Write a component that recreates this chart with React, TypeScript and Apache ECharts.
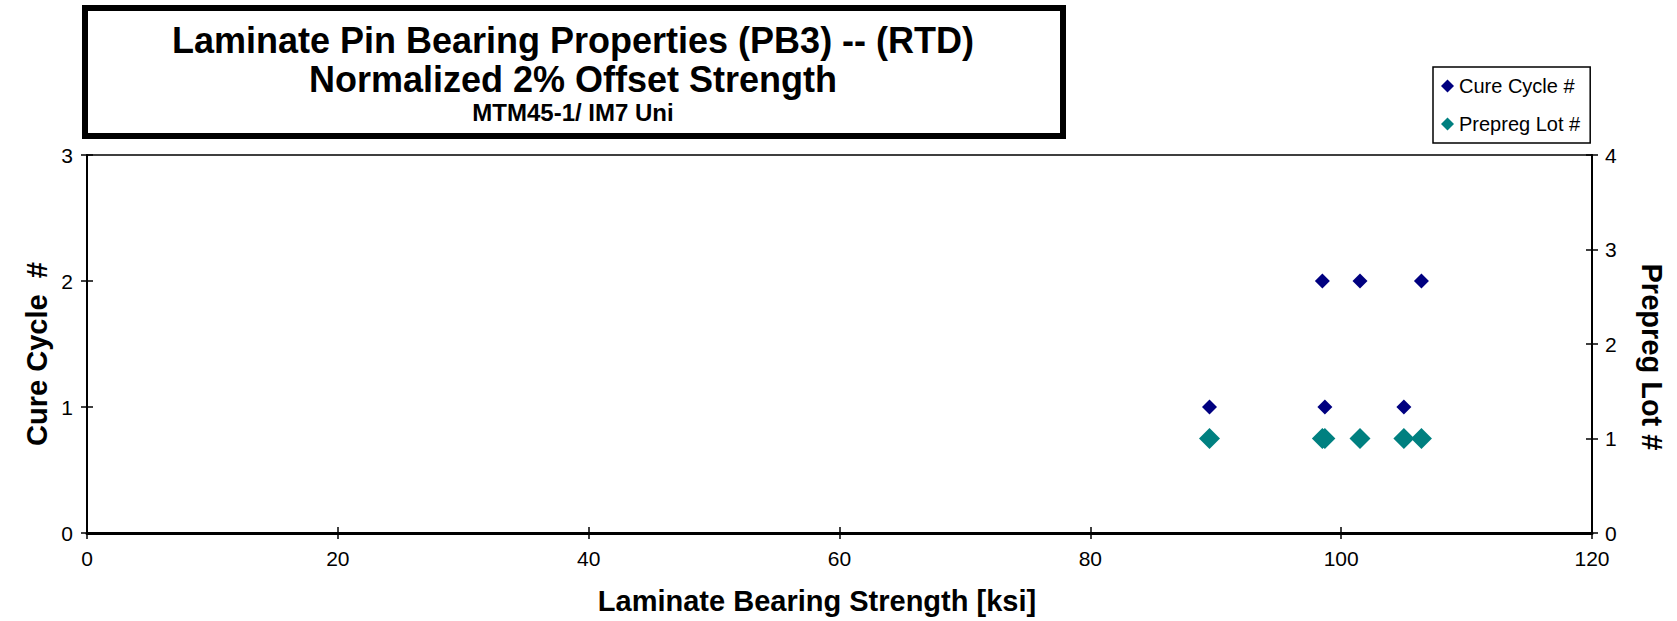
import React, { useEffect, useRef } from "react";
import * as echarts from "echarts";

const titleLines = [
  "Laminate Pin Bearing Properties (PB3) -- (RTD)",
  "Normalized 2% Offset Strength",
  "MTM45-1/ IM7 Uni",
];
const xAxisName = "Laminate Bearing Strength [ksi]";
const leftAxisName = "Cure Cycle  #";
const rightAxisName = "Prepreg Lot #";

const cureName = "Cure Cycle #";
const cureX = [98.5, 101.5, 106.4, 89.5, 98.7, 105.0];
const cureY = [2, 2, 2, 1, 1, 1];

const lotName = "Prepreg Lot #";
const lotX = [89.5, 98.5, 98.7, 101.5, 105.0, 106.4];
const lotY = [1, 1, 1, 1, 1, 1];

const FONT = "'Liberation Sans', Arial, sans-serif";

export default function App() {
  const ref = useRef<HTMLDivElement>(null);
  useEffect(() => {
    if (!ref.current) return;
    const chart = echarts.init(ref.current, undefined, { renderer: "svg" });
    const axisLabel = { fontSize: 21, color: "#000", fontFamily: FONT };
    const gridPos = { left: 87, right: 85, top: 155, bottom: 88 };
    const tickStyle = { color: "#000", width: 1.5 };
    const option: any = {
      animation: false,
      backgroundColor: "#fff",
      grid: [
        {
          ...gridPos,
          show: true,
          borderColor: "#000",
          borderWidth: 1.5,
          backgroundColor: "transparent",
        },
        { ...gridPos, show: false },
      ],
      legend: {
        orient: "vertical",
        left: 1433,
        top: 67,
        itemWidth: 13,
        itemHeight: 13,
        itemGap: 18,
        padding: [9, 10, 9, 8],
        borderColor: "#000",
        borderWidth: 1.5,
        backgroundColor: "#fff",
        textStyle: { fontSize: 20, color: "#000", fontFamily: FONT, lineHeight: 20 },
        data: [
          { name: cureName, icon: "diamond" },
          { name: lotName, icon: "diamond" },
        ],
      },
      xAxis: [
        {
          type: "value",
          gridIndex: 0,
          position: "bottom",
          min: 0,
          max: 120,
          interval: 20,
          axisLine: { show: true, lineStyle: { color: "#000", width: 3 } },
          axisTick: { show: true, inside: false, length: 6, lineStyle: tickStyle },
          axisLabel: { ...axisLabel, margin: 15 },
          splitLine: { show: false },
        },
        {
          type: "value",
          gridIndex: 1,
          position: "bottom",
          min: 0,
          max: 120,
          interval: 20,
          axisLine: { show: false },
          axisTick: { show: true, inside: true, length: 6, lineStyle: tickStyle },
          axisLabel: { show: false },
          splitLine: { show: false },
        },
      ],
      yAxis: [
        {
          type: "value",
          gridIndex: 0,
          position: "left",
          min: 0,
          max: 3,
          interval: 1,
          axisLine: { show: true, lineStyle: { color: "#000", width: 2 } },
          axisTick: { show: true, inside: false, length: 6, lineStyle: tickStyle },
          axisLabel: { ...axisLabel, margin: 14 },
          splitLine: { show: false },
        },
        {
          type: "value",
          gridIndex: 0,
          position: "right",
          min: 0,
          max: 4,
          interval: 1,
          axisLine: { show: true, lineStyle: { color: "#000", width: 2 } },
          axisTick: { show: true, inside: false, length: 6, lineStyle: tickStyle },
          axisLabel: { ...axisLabel, margin: 13 },
          splitLine: { show: false },
        },
        {
          type: "value",
          gridIndex: 1,
          position: "left",
          min: 0,
          max: 3,
          interval: 1,
          axisLine: { show: false },
          axisTick: { show: true, inside: true, length: 6, lineStyle: tickStyle },
          axisLabel: { show: false },
          splitLine: { show: false },
        },
        {
          type: "value",
          gridIndex: 1,
          position: "right",
          min: 0,
          max: 4,
          interval: 1,
          axisLine: { show: false },
          axisTick: { show: true, inside: true, length: 6, lineStyle: tickStyle },
          axisLabel: { show: false },
          splitLine: { show: false },
        },
      ],
      series: [
        {
          name: cureName,
          type: "scatter",
          xAxisIndex: 0,
          yAxisIndex: 0,
          symbol: "diamond",
          symbolSize: 15,
          itemStyle: { color: "#000080", opacity: 1 },
          data: cureX.map((x, i) => [x, cureY[i]]),
        },
        {
          name: lotName,
          type: "scatter",
          xAxisIndex: 0,
          yAxisIndex: 1,
          symbol: "diamond",
          symbolSize: 21,
          itemStyle: { color: "#008080", opacity: 1 },
          data: lotX.map((x, i) => [x, lotY[i]]),
        },
      ],
      graphic: [
        {
          type: "rect",
          shape: { x: 85, y: 8, width: 978, height: 128 },
          style: { fill: "#fff", stroke: "#000", lineWidth: 6 },
          z: 10,
        },
        {
          type: "text",
          x: 573,
          y: 40,
          z: 11,
          style: { text: titleLines[0], font: `bold 36px ${FONT}`, fill: "#000", textAlign: "center", textVerticalAlign: "middle" },
        },
        {
          type: "text",
          x: 573,
          y: 79,
          z: 11,
          style: { text: titleLines[1], font: `bold 36px ${FONT}`, fill: "#000", textAlign: "center", textVerticalAlign: "middle" },
        },
        {
          type: "text",
          x: 573,
          y: 112,
          z: 11,
          style: { text: titleLines[2], font: `bold 24px ${FONT}`, fill: "#000", textAlign: "center", textVerticalAlign: "middle" },
        },
        {
          type: "text",
          x: 817,
          y: 601,
          style: { text: xAxisName, font: `bold 29px ${FONT}`, fill: "#000", textAlign: "center", textVerticalAlign: "middle" },
        },
        {
          type: "text",
          x: 37,
          y: 354,
          rotation: Math.PI / 2,
          style: { text: leftAxisName, font: `bold 29px ${FONT}`, fill: "#000", textAlign: "center", textVerticalAlign: "middle" },
        },
        {
          type: "text",
          x: 1652,
          y: 357,
          rotation: -Math.PI / 2,
          style: { text: rightAxisName, font: `bold 29px ${FONT}`, fill: "#000", textAlign: "center", textVerticalAlign: "middle" },
        },
      ],
    };
    chart.setOption(option);
    return () => chart.dispose();
  }, []);
  return <div ref={ref} style={{ position: "absolute", left: 0, top: 0, width: 1677, height: 621 }} />;
}
